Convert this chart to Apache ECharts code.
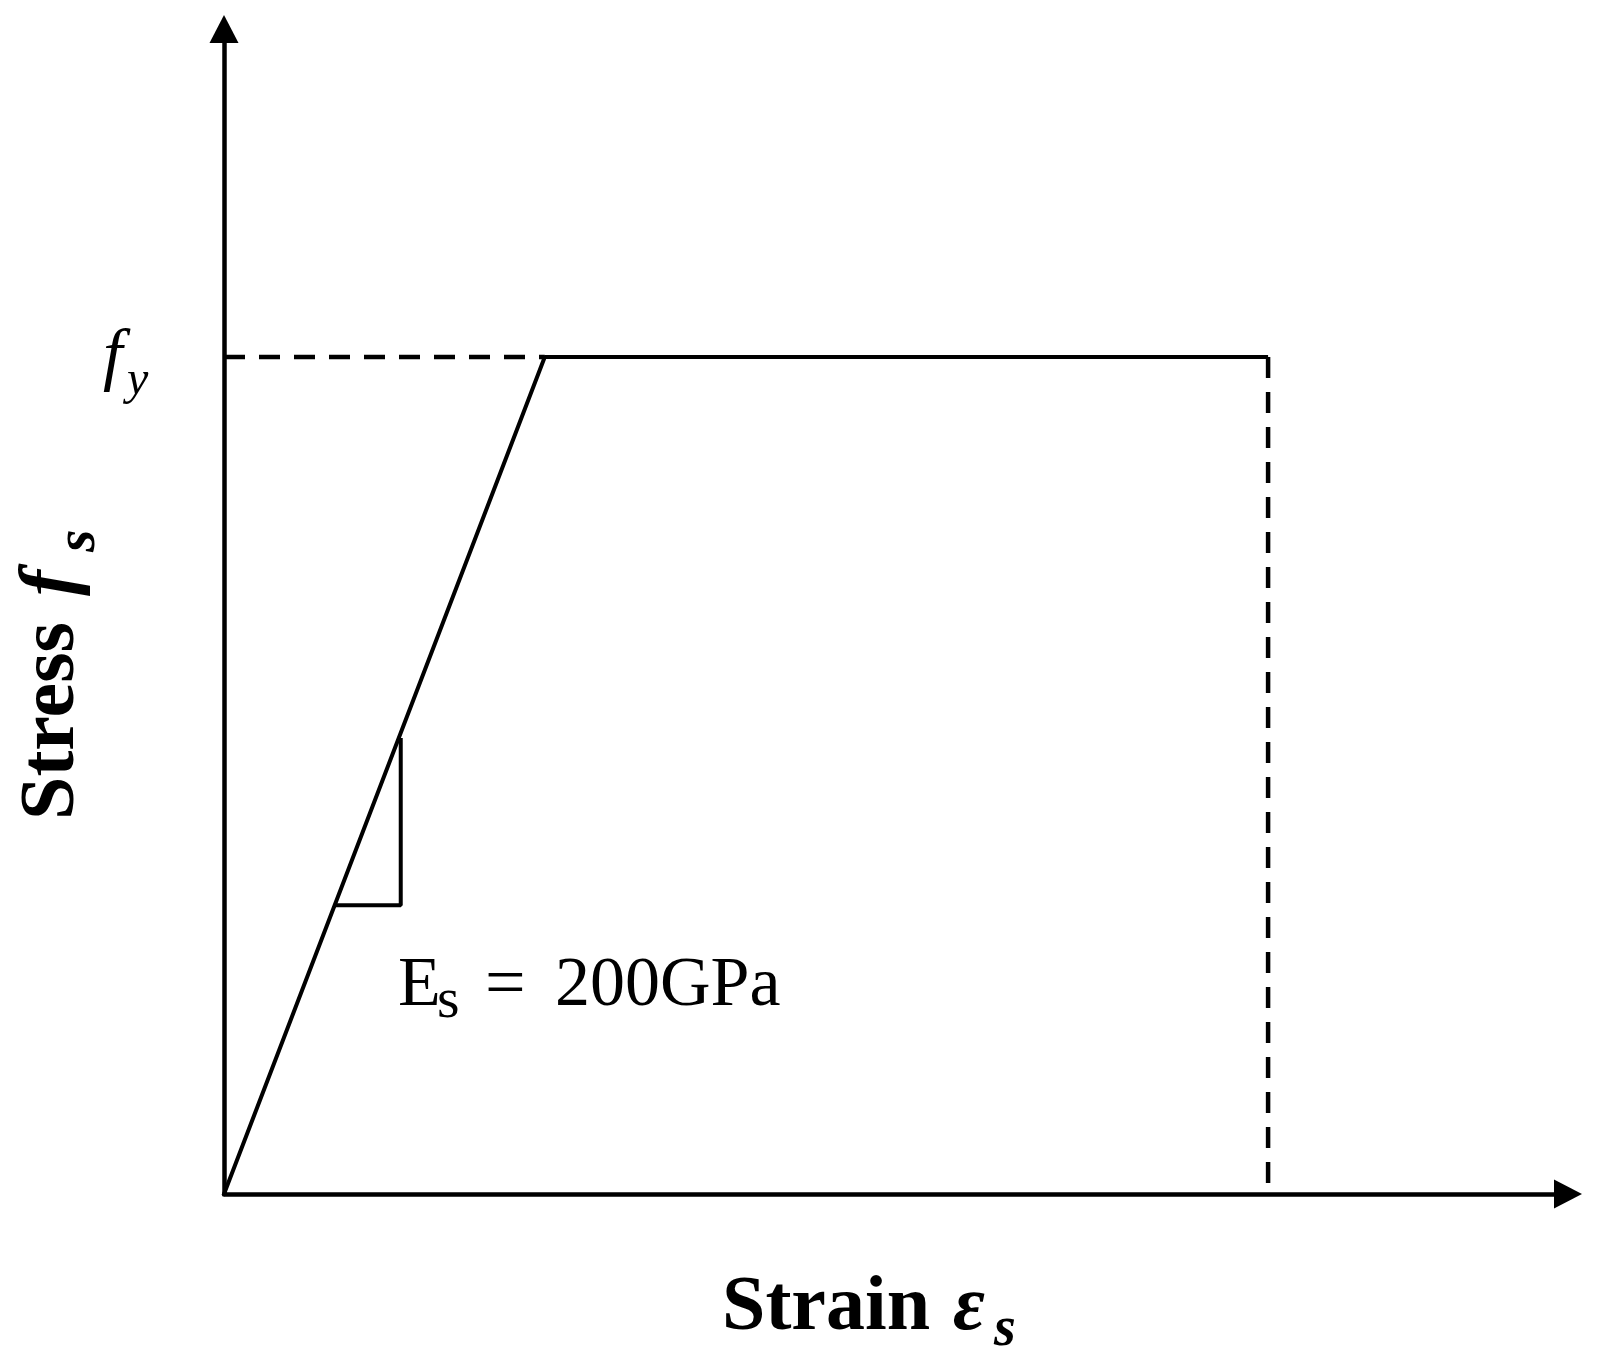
<!DOCTYPE html>
<html>
<head>
<meta charset="utf-8">
<script src="https://cdn.jsdelivr.net/npm/echarts@6/dist/echarts.min.js"></script>
<style>
  html, body { margin: 0; padding: 0; background: #fff; }
  #chart { width: 1607px; height: 1367px; }
</style>
</head>
<body>
<div id="chart"></div>
<script>
// normalised units: strain / yield strain, stress / fy
const strain = [0, 1, 3.255];
const stress = [0, 1, 1];
const yieldGuideX = [0, 1];
const yieldGuideY = [1, 1];
const ultimateGuideX = [3.255, 3.255];
const ultimateGuideY = [1, 0];
const slopeTriX = [0.345, 0.551, 0.551];
const slopeTriY = [0.345, 0.345, 0.545];
const xMax = 4.19;
const yMax = 1.392;

const zip = (xs, ys) => xs.map((x, i) => [x, ys[i]]);

const chartDom = document.getElementById("chart");
const myChart = echarts.init(chartDom);

const serif = "Liberation Serif";

const axisLineStyle = {
  show: true,
  symbol: ["none", "triangle"],
  symbolSize: [29, 28],
  lineStyle: { color: "#000", width: 4.5 },
};

const option = {
  animation: false,
  backgroundColor: "#fff",
  grid: { left: 224, right: 39, top: 29, bottom: 173 },
  xAxis: {
    type: "value",
    min: 0,
    max: xMax,
    axisLine: axisLineStyle,
    axisTick: { show: false },
    axisLabel: { show: false },
    splitLine: { show: false },
  },
  yAxis: {
    type: "value",
    min: 0,
    max: yMax,
    axisLine: axisLineStyle,
    axisTick: { show: false },
    axisLabel: { show: false },
    splitLine: { show: false },
  },
  series: [
    {
      type: "line",
      data: zip(strain, stress),
      symbol: "none",
      lineStyle: { color: "#000", width: 4 },
    },
    {
      type: "line",
      data: zip(yieldGuideX, yieldGuideY),
      symbol: "none",
      lineStyle: { color: "#000", width: 4.5, type: [21, 14] },
    },
    {
      type: "line",
      data: zip(ultimateGuideX, ultimateGuideY),
      symbol: "none",
      lineStyle: { color: "#000", width: 4.5, type: [21, 14] },
    },
    {
      type: "line",
      data: zip(slopeTriX, slopeTriY),
      symbol: "none",
      lineStyle: { color: "#000", width: 4 },
    },
  ],
  graphic: [
    // f_y tick label
    { type: "text", x: 103, y: 359, style: { text: "f", font: "italic 70px '" + serif + "'", fill: "#000", verticalAlign: "middle" } },
    { type: "text", x: 127, y: 381, style: { text: "y", font: "italic 48px '" + serif + "'", fill: "#000", verticalAlign: "middle" } },
    // modulus annotation
    { type: "text", x: 398, y: 987, style: { text: "E", font: "70px '" + serif + "'", fill: "#000", verticalAlign: "middle" } },
    { type: "text", x: 437, y: 1002, style: { text: "s", font: "58px '" + serif + "'", fill: "#000", verticalAlign: "middle" } },
    { type: "text", x: 485, y: 987, style: { text: "=", font: "72px '" + serif + "'", fill: "#000", verticalAlign: "middle" } },
    { type: "text", x: 555, y: 987, style: { text: "200GPa", font: "70px '" + serif + "'", fill: "#000", verticalAlign: "middle" } },
    // x axis title
    { type: "text", x: 722, y: 1309, style: { text: "Strain", font: "bold 78px '" + serif + "'", fill: "#000", verticalAlign: "middle" } },
    { type: "text", x: 953, y: 1309, style: { text: "ε", font: "italic bold 78px '" + serif + "'", fill: "#000", verticalAlign: "middle" } },
    { type: "text", x: 994, y: 1331, style: { text: "s", font: "italic bold 56px '" + serif + "'", fill: "#000", verticalAlign: "middle" } },
    // y axis title (rotated)
    {
      type: "group",
      x: 79,
      y: 820,
      rotation: Math.PI / 2,
      children: [
        { type: "text", x: 0, y: -26, style: { text: "Stress", font: "bold 78px '" + serif + "'", fill: "#000", verticalAlign: "middle" } },
        { type: "text", x: 224, y: -26, style: { text: "f", font: "italic bold 78px '" + serif + "'", fill: "#000", verticalAlign: "middle" } },
        { type: "text", x: 268, y: 0, style: { text: "s", font: "italic bold 58px '" + serif + "'", fill: "#000", verticalAlign: "middle" } },
      ],
    },
  ],
};

option && myChart.setOption(option);
</script>
</body>
</html>
